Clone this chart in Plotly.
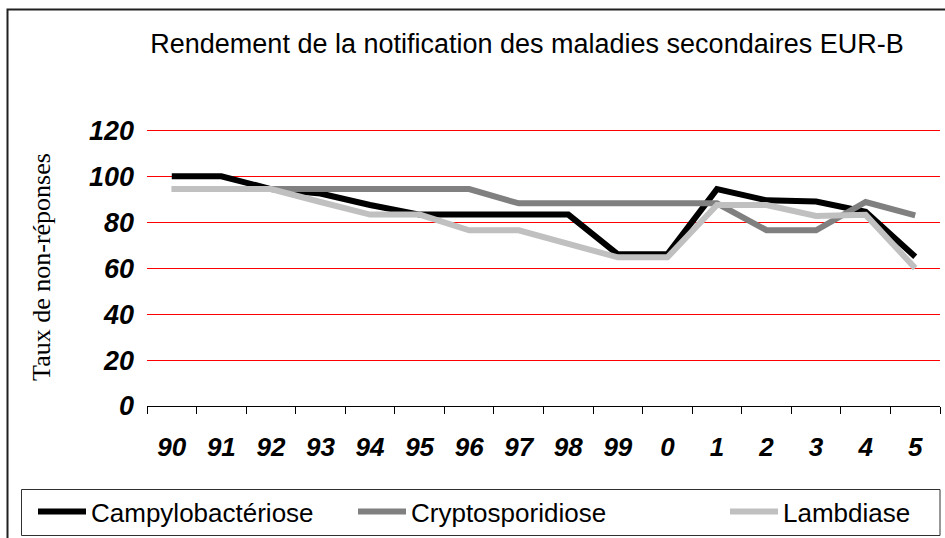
import plotly.graph_objects as go

# ---- data ----
years = ["90", "91", "92", "93", "94", "95", "96", "97", "98", "99", "0", "1", "2", "3", "4", "5"]
campylobacteriose = [100, 100, 94.4, 92.5, 87.5, 83.3, 83.3, 83.3, 83.3, 66, 66, 94.4, 89.5, 89, 84.5, 65]
cryptosporidiose = [94.4, 94.4, 94.4, 94.4, 94.4, 94.4, 94.4, 88.2, 88.2, 88.2, 88.2, 88.2, 76.5, 76.5, 88.8, 83]
lambdiase = [94.4, 94.4, 94.4, 88.8, 83.3, 83.3, 76.5, 76.5, 70.6, 64.7, 64.7, 87.5, 87.5, 82.7, 83.2, 60]
y_ticks = [0, 20, 40, 60, 80, 100, 120]

series = [
    ("Campylobactériose", campylobacteriose, "#000000", "legend"),
    ("Cryptosporidiose", cryptosporidiose, "#808080", "legend2"),
    ("Lambdiase", lambdiase, "#C0C0C0", "legend3"),
]

W, H = 945, 538
L, R, T, B = 147, 5, 128, 132
PW, PH = W - L - R, H - T - B


def px_x(p):
    return (p - L) / PW


def px_y(p):
    return (H - B - p) / PH


fig = go.Figure()
for name, vals, col, leg in series:
    fig.add_trace(go.Scatter(
        x=years, y=vals, name=name, mode="lines",
        line=dict(color=col, width=6), legend=leg,
    ))

x_tick_font = dict(family="Liberation Sans, Arial", size=26, color="black",
                   weight="bold", style="italic")
y_tick_font = dict(family="Liberation Sans, Arial", size=27, color="black",
                   weight="bold", style="italic")


def legend_at(px_left):
    return dict(
        orientation="h", x=px_x(px_left), xanchor="left", y=px_y(488), yanchor="top",
        font=dict(family="Liberation Sans, Arial", size=26, color="black"),
        bgcolor="rgba(0,0,0,0)", borderwidth=0, itemwidth=48,
    )


fig.update_layout(
    width=W, height=H,
    margin=dict(l=L, r=R, t=T, b=B, autoexpand=False),
    paper_bgcolor="white", plot_bgcolor="white",
    title=dict(
        text="Rendement de la notification des maladies secondaires EUR-B",
        font=dict(family="Liberation Sans, Arial", size=27, color="black"),
        x=527 / W, xref="container", xanchor="center",
        y=1 - 44 / H, yref="container", yanchor="middle",
    ),
    xaxis=dict(
        type="category", showgrid=False, zeroline=False,
        showline=True, linecolor="black", linewidth=1,
        ticks="outside", tickson="boundaries", ticklen=7, tickcolor="black",
        tickfont=x_tick_font, ticklabelstandoff=18,
        range=[-0.5, len(years) - 0.5],
    ),
    yaxis=dict(
        range=[0, 121], tickvals=y_ticks, ticktext=[str(v) for v in y_ticks],
        showgrid=True, gridcolor="#FF0000", gridwidth=1,
        zeroline=False, showline=False, ticks="",
        tickfont=y_tick_font, ticklabelstandoff=12,
        title=dict(text="Taux de non-réponses",
                   font=dict(family="Liberation Serif, Times New Roman", size=26, color="black"),
                   standoff=30),
    ),
    showlegend=True,
    legend=legend_at(33),
    legend2=legend_at(353),
    legend3=legend_at(725),
    shapes=[
        # outer frame
        dict(type="rect", xref="paper", yref="paper",
             x0=px_x(7.5), x1=px_x(960), y0=px_y(560), y1=px_y(9.5),
             line=dict(color="#202020", width=2), fillcolor="rgba(0,0,0,0)", layer="above"),
        # legend box
        dict(type="rect", xref="paper", yref="paper",
             x0=px_x(21.5), x1=px_x(940), y0=px_y(535.5), y1=px_y(489.5),
             line=dict(color="#303030", width=1), fillcolor="rgba(0,0,0,0)", layer="above"),
    ],
)

fig.write_html("out.html", config={"displayModeBar": False},
               post_script="document.body.style.margin='0';")
